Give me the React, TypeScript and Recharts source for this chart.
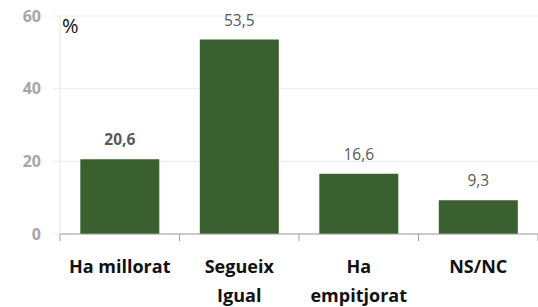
import React from 'react';
import { BarChart, Bar, XAxis, YAxis, CartesianGrid, LabelList } from 'recharts';

const categories = ['Ha millorat', 'Segueix\nIgual', 'Ha\nempitjorat', 'NS/NC'];
const values = [20.6, 53.5, 16.6, 9.3];
const yTicks = [0, 20, 40, 60];
const unitLabel = '%';

const data = categories.map((c, i) => ({ name: c, value: values[i] }));

const W = 538;
const H = 307;
const M = { top: 16, right: 0, left: 0, bottom: 0 };
const Y_W = 60;
const BAND = (W - Y_W - M.right) / categories.length;
const FONT = '"Open Sans", Lato, sans-serif';

const XTick = (props: any) => {
  const { x, y, payload, index } = props;
  const lines = String(payload.value).split('\n');
  const y0 = y;
  return (
    <g>
      <line x1={x - BAND / 2} x2={x - BAND / 2} y1={y0} y2={y0 + 7} stroke="#a0a0a0" strokeWidth={1} />
      {index === categories.length - 1 && (
        <line x1={x + BAND / 2} x2={x + BAND / 2} y1={y0} y2={y0 + 7} stroke="#a0a0a0" strokeWidth={1} />
      )}
      {lines.map((l, i) => (
        <text key={i} x={x} y={y0 + 39 + i * 29} textAnchor="middle" fontFamily={FONT} fontWeight="bold" fontSize={18} fill="#111">
          {l}
        </text>
      ))}
    </g>
  );
};

const ValueLabel = (props: any) => {
  const { x, y, width, value, index } = props;
  return (
    <text x={x + width / 2} y={y - 14} textAnchor="middle" fontFamily={FONT} fontSize={15.5} fontWeight={index === 0 ? 'bold' : 'normal'} fill="#595959">
      {String(value).replace('.', ',')}
    </text>
  );
};

export default function App() {
  return (
    <div style={{ position: 'absolute', left: 0, top: 0, width: W, height: H }}>
      <BarChart width={W} height={H} data={data} margin={M} barCategoryGap="17%">
        <CartesianGrid vertical={false} stroke="#ebebeb" />
        <XAxis
          dataKey="name"
          height={73}
          axisLine={{ stroke: '#a0a0a0' }}
          tickLine={false}
          tickSize={0}
          tickMargin={0}
          tick={<XTick />}
          interval={0}
        />
        <YAxis
          width={Y_W}
          domain={[0, 60]}
          ticks={yTicks}
          axisLine={{ stroke: '#e6e6e6' }}
          tickLine={{ stroke: '#ebebeb' }}
          tickSize={7}
          tickMargin={12}
          tick={{ fill: '#a6a6a6', fontSize: 16, fontWeight: 'bold', fontFamily: FONT }}
          label={{
            content: (p: any) => (
              <text x={p.viewBox.x + p.viewBox.width + 2} y={p.viewBox.y + 17} fontFamily={FONT} fontSize={20} fill="#111">
                {unitLabel}
              </text>
            ),
          }}
        />
        <Bar dataKey="value" fill="#3b602f" isAnimationActive={false}>
          <LabelList dataKey="value" content={<ValueLabel />} />
        </Bar>
      </BarChart>
    </div>
  );
}
